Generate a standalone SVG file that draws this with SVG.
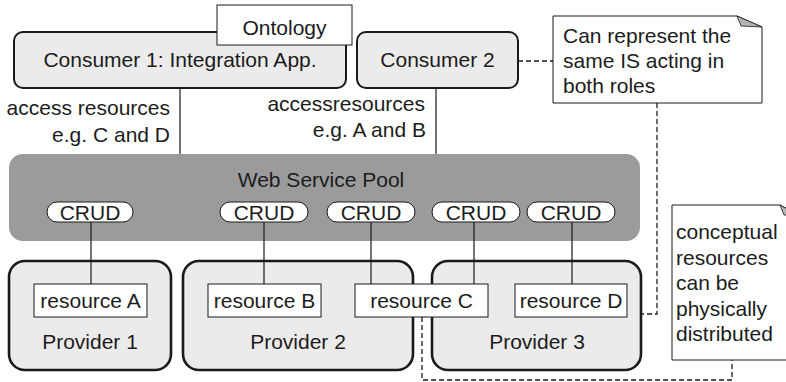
<svg xmlns="http://www.w3.org/2000/svg" width="786" height="382" viewBox="0 0 786 382">
  <style>
    text { font-family: "Liberation Sans", Arial, sans-serif; font-size: 21px; fill: #1c1c1c; }
    .mid { text-anchor: middle; }
    .end { text-anchor: end; }
    .consumer { fill: #ebebeb; stroke: #1a1a1a; stroke-width: 2; }
    .provider { fill: #ebebeb; stroke: #1a1a1a; stroke-width: 2.6; }
    .pool { fill: #9b9b9b; }
    .crud { fill: #ffffff; stroke: #1a1a1a; stroke-width: 1; }
    .res { fill: #ffffff; stroke: #1a1a1a; stroke-width: 1; }
    .note { fill: #ffffff; stroke: #1a1a1a; stroke-width: 1; }
    .fold { fill: #b4b4b4; stroke: #1a1a1a; stroke-width: 0.8; }
    .link { fill: none; stroke: #1a1a1a; stroke-width: 1.2; }
    .dash { fill: none; stroke: #1a1a1a; stroke-width: 1.3; stroke-dasharray: 5 3; }
  </style>

  <!-- service pool and its CRUD interfaces -->
  <g id="pool">
    <rect class="pool" x="9" y="154" width="631" height="87" rx="14"/>
    <text class="mid" x="321" y="187">Web Service Pool</text>
  </g>
  <g id="crud1"><rect class="crud" x="47" y="202" width="86" height="20" rx="10"/><text class="mid" x="90" y="220">CRUD</text></g>
  <g id="crud2"><rect class="crud" x="220" y="202" width="88" height="20" rx="10"/><text class="mid" x="264" y="220">CRUD</text></g>
  <g id="crud3"><rect class="crud" x="327" y="202" width="88" height="20" rx="10"/><text class="mid" x="371" y="220">CRUD</text></g>
  <g id="crud4"><rect class="crud" x="432" y="202" width="88" height="20" rx="10"/><text class="mid" x="476" y="220">CRUD</text></g>
  <g id="crud5"><rect class="crud" x="527" y="202" width="88" height="20" rx="10"/><text class="mid" x="571" y="220">CRUD</text></g>

  <!-- consumers -->
  <g id="consumer1">
    <rect class="consumer" x="14" y="32" width="332" height="56" rx="9"/>
    <text class="mid" x="180" y="67">Consumer 1: Integration App.</text>
  </g>
  <g id="ontology">
    <rect class="res" x="217" y="5" width="135" height="40"/>
    <text class="mid" x="284.5" y="35">Ontology</text>
  </g>
  <g id="consumer2">
    <rect class="consumer" x="357" y="32" width="161" height="56" rx="9"/>
    <text class="mid" x="437.5" y="67">Consumer 2</text>
  </g>

  <!-- providers -->
  <g id="provider1">
    <rect class="provider" x="9" y="261" width="162" height="109" rx="16"/>
    <text class="mid" x="90" y="349">Provider 1</text>
  </g>
  <g id="provider2">
    <rect class="provider" x="183" y="261" width="230" height="109" rx="16"/>
    <text class="mid" x="298" y="349">Provider 2</text>
  </g>
  <g id="provider3">
    <rect class="provider" x="432" y="261" width="209" height="109" rx="16"/>
    <text class="mid" x="537" y="349">Provider 3</text>
  </g>

  <!-- connectors -->
  <g id="connectors">
    <line class="link" x1="180" y1="88" x2="180" y2="154"/>
    <line class="link" x1="436" y1="88" x2="436" y2="154"/>
    <line class="link" x1="91" y1="222" x2="91" y2="284"/>
    <line class="link" x1="264" y1="222" x2="264" y2="284"/>
    <line class="link" x1="371" y1="222" x2="371" y2="284"/>
    <line class="link" x1="474" y1="222" x2="474" y2="284"/>
    <line class="link" x1="572" y1="222" x2="572" y2="284"/>
    <polyline class="dash" points="518,61 553,61"/>
    <polyline class="dash" points="657,103 657,314 641,314"/>
    <polyline class="dash" points="422,317 422,380 732,380 732,360"/>
  </g>

  <!-- resources -->
  <g id="resourceA"><rect class="res" x="34" y="284" width="113" height="33"/><text class="mid" x="90.5" y="308">resource A</text></g>
  <g id="resourceB"><rect class="res" x="208" y="284" width="113" height="33"/><text class="mid" x="264.5" y="308">resource B</text></g>
  <g id="resourceC"><rect class="res" x="355" y="284" width="133" height="33"/><text class="mid" x="421.5" y="308">resource C</text></g>
  <g id="resourceD"><rect class="res" x="515" y="284" width="112" height="33"/><text class="mid" x="571" y="308">resource D</text></g>

  <!-- access labels -->
  <g id="label1">
    <text class="end" x="170" y="115">access resources</text>
    <text class="end" x="170" y="142">e.g. C and D</text>
  </g>
  <g id="label2">
    <text class="end" x="425" y="111">accessresources</text>
    <text class="end" x="426" y="137">e.g. A and B</text>
  </g>

  <!-- annotations -->
  <g id="note1">
    <path class="note" d="M553,16 H737 L762,27 V103 H553 Z"/>
    <path class="fold" d="M737,16 L762,27 L741,26 Z"/>
    <text x="563" y="43">Can represent the</text>
    <text x="563" y="68">same IS acting in</text>
    <text x="563" y="93">both roles</text>
  </g>
  <g id="note2">
    <path class="note" d="M672,205 H780 L800,216 V360 H672 Z"/>
    <path class="fold" d="M780,205 L800,216 L784,215 Z"/>
    <text x="676" y="239">conceptual</text>
    <text x="676" y="264.5">resources</text>
    <text x="676" y="290">can be</text>
    <text x="676" y="315.5">physically</text>
    <text x="676" y="341">distributed</text>
  </g>
</svg>
